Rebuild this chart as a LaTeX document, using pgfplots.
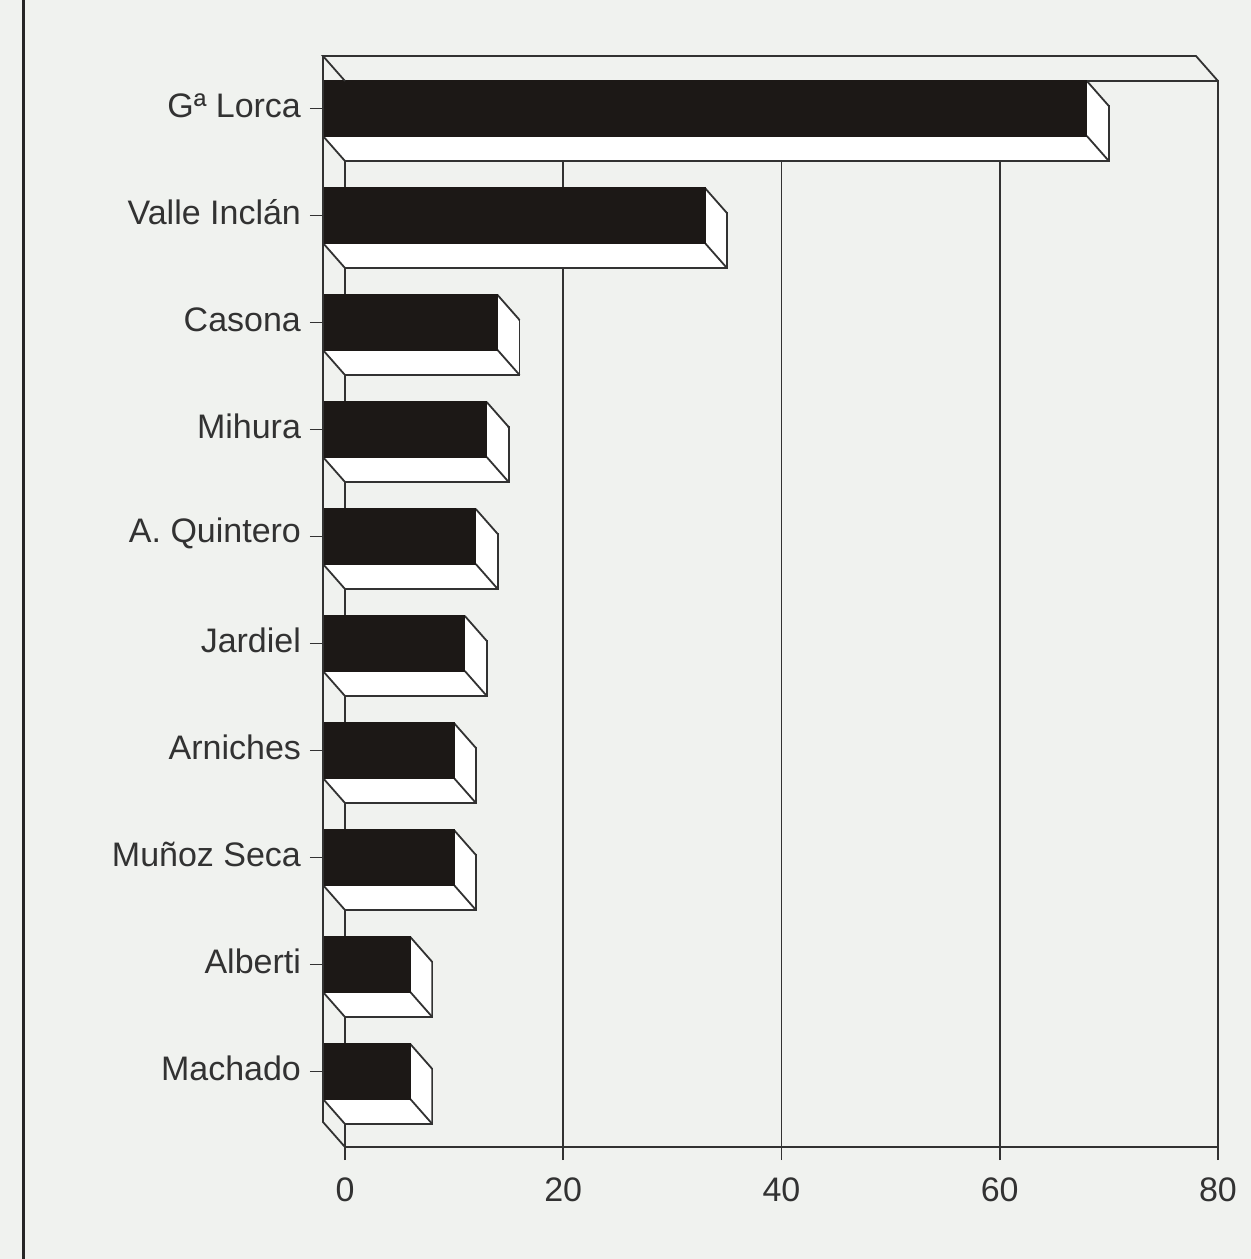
\documentclass[border=0pt]{standalone}
\usepackage{fontspec}
\setmainfont{Liberation Sans}
\usepackage{pgfplots}
\usepackage{pgfplotstable}
\pgfplotsset{compat=1.18}
\definecolor{bg}{RGB}{240,242,239}
\definecolor{ink}{RGB}{50,50,50}
\definecolor{barblack}{RGB}{28,24,22}

\pgfplotstableread[col sep=comma]{
i,v,name
0,70,Gª Lorca
1,35,Valle Inclán
2,16,Casona
3,15,Mihura
4,14,A. Quintero
5,13,Jardiel
6,12,Arniches
7,12,Muñoz Seca
8,8,Alberti
9,8,Machado
}\data

\begin{document}
\begin{tikzpicture}
\useasboundingbox[fill=bg] (-172.5pt,-56pt) rectangle (453pt,573.5pt);
\draw[line width=1.6pt, black!85] (-160.75pt,-56pt) -- (-160.75pt,573.5pt);
\begin{axis}[
  scale only axis, width=436.5pt, height=533pt,
  xmin=0, xmax=80, ymin=-0.4907, ymax=9.472, y dir=reverse,
  clip=false,
  axis line style={ink, line width=0.9pt},
  xtick={0,20,...,80}, xtick align=outside, xtick pos=bottom,
  ytick={0,...,9}, yticklabels from table={\data}{name},
  ytick align=outside, ytick pos=left,
  major tick length=6.5pt,
  xmajorgrids, grid style={ink, line width=0.9pt},
  tick style={ink, line width=0.9pt},
  ytick style={xshift=-11pt, yshift=12.5pt},
  yticklabel style={xshift=-12pt, yshift=14pt},
  xticklabel style={yshift=-5.5pt},
  ticklabel style={font=\fontsize{17}{20}\selectfont, text=ink},
  /pgf/number format/assume math mode=true,
]
% back face of each bar
\addplot[xbar, bar width=27.5pt, fill=white, draw=ink, line width=0.9pt] table[x=v,y=i]{\data};
% extrusion fill
\pgfplotsinvokeforeach{1,...,21}{
  \addplot[xbar, bar width=27.5pt, fill=white, draw=none, xshift=-#1*0.5pt, yshift=#1*0.56818pt] table[x=v,y=i]{\data};
}
% depth edges
\addplot[quiver={u=-2.016,v=-0.2336}, draw=ink, line width=0.9pt, mark=none] table[x=v, y expr=\thisrow{i}-0.257]{\data};
\addplot[quiver={u=-2.016,v=-0.2336}, draw=ink, line width=0.9pt, mark=none] table[x=v, y expr=\thisrow{i}+0.257]{\data};
\addplot[quiver={u=-2.016,v=-0.2336}, draw=ink, line width=0.9pt, mark=none] table[x expr=0, y expr=\thisrow{i}+0.257]{\data};
% front face
\addplot[xbar, bar width=27.5pt, fill=barblack, draw=barblack, line width=0.6pt, xshift=-11pt, yshift=12.5pt] table[x=v,y=i]{\data};
% box frame
\draw[ink, line width=0.9pt] (axis cs:0,-0.4907) -- (axis cs:-2.016,-0.7243) -- (axis cs:77.984,-0.7243) -- (axis cs:80,-0.4907);
\draw[ink, line width=0.9pt] (axis cs:-2.016,-0.7243) -- (axis cs:-2.016,9.2384) -- (axis cs:0,9.472);
\end{axis}
\end{tikzpicture}
\end{document}
